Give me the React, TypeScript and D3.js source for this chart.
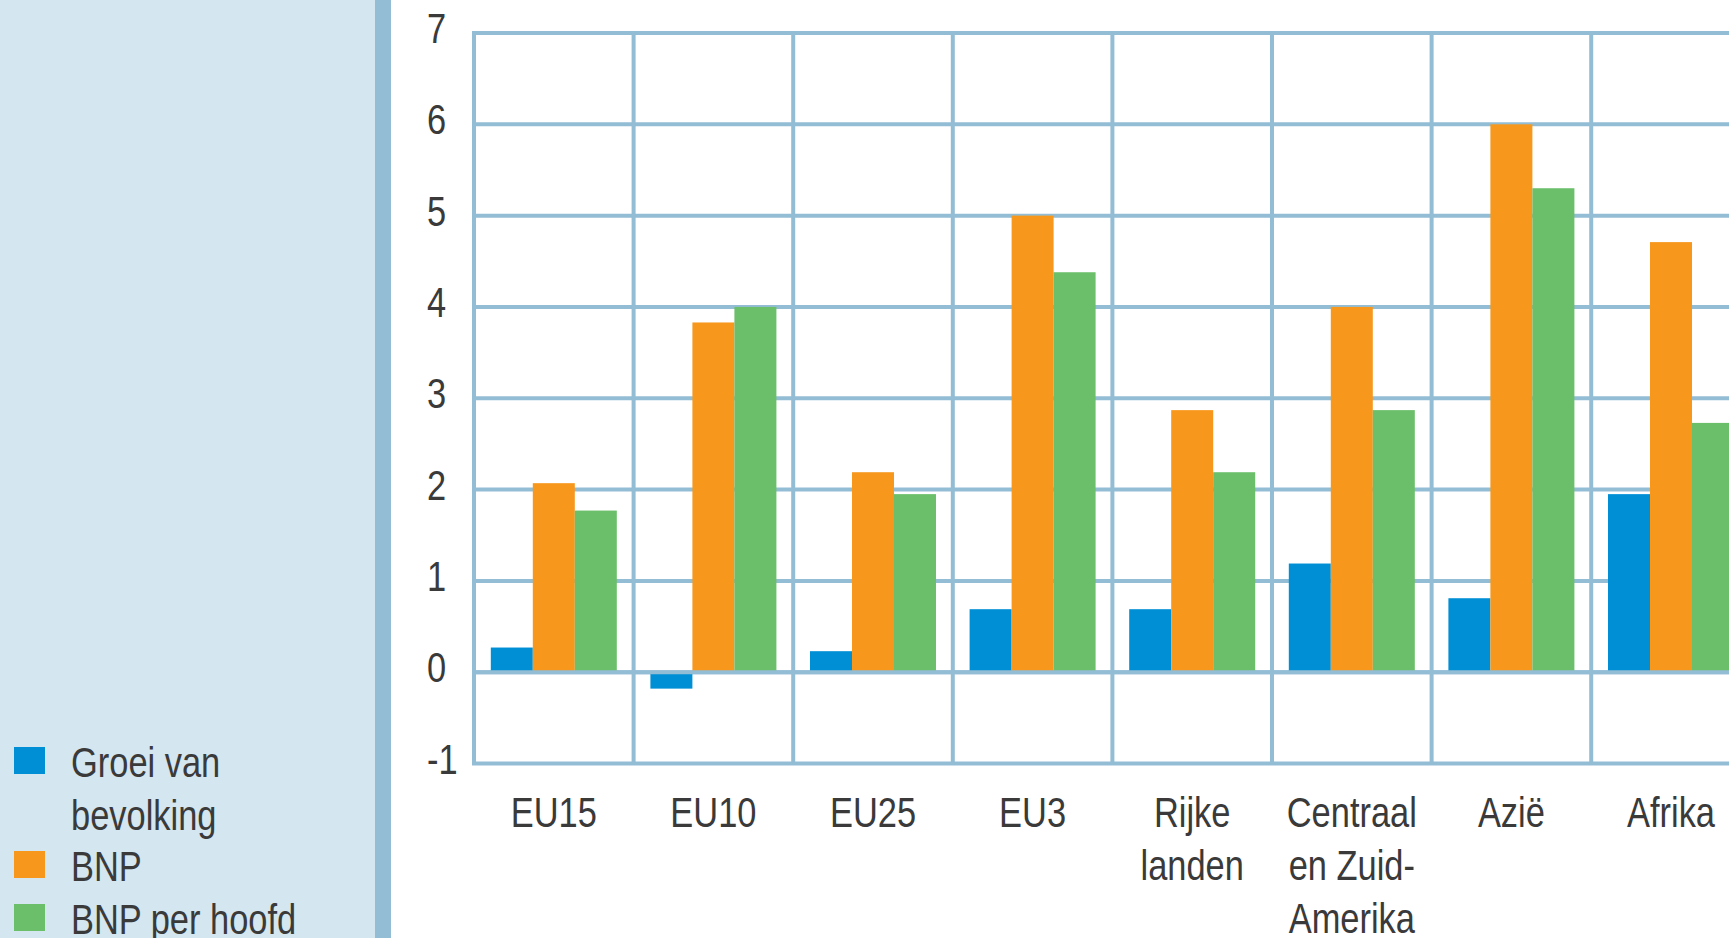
import React, { useEffect, useRef } from 'react'
import * as d3 from 'd3'

const categories = ['EU15', 'EU10', 'EU25', 'EU3', 'Rijke landen', 'Centraal en Zuid-Amerika', 'Azië', 'Afrika']
const categoryLines = [['EU15'], ['EU10'], ['EU25'], ['EU3'], ['Rijke', 'landen'], ['Centraal', 'en Zuid-', 'Amerika'], ['Azië'], ['Afrika']]
const seriesNames = ['Groei van bevolking', 'BNP', 'BNP per hoofd']
const legendLines = [['Groei van', 'bevolking'], ['BNP'], ['BNP per hoofd']]
const bevolking = [0.27, -0.18, 0.23, 0.69, 0.69, 1.19, 0.81, 1.95]
const bnp = [2.07, 3.83, 2.19, 5.0, 2.87, 4.0, 6.0, 4.71]
const bnpPerHoofd = [1.77, 4.0, 1.95, 4.38, 2.19, 2.87, 5.3, 2.73]
const yTicks = [-1, 0, 1, 2, 3, 4, 5, 6, 7]
const colors = ['#008fd5', '#f7981d', '#6bbf6a']

const W = 1729
const H = 938
const FONT = '"Liberation Sans", Arial, sans-serif'
const TEXT = '#3a3a3a'
const GRID = '#93bdd5'
const NARROW = 0.82 // the source uses a condensed face; squeeze a regular one

type Sel = d3.Selection<SVGGElement, unknown, null, undefined>

// condensed text block: lines stacked 53px apart, first baseline at y
function label(parent: Sel, x: number, y: number, lines: string[], anchor: string) {
    const t = parent
        .append('g')
        .attr('transform', `translate(${x},${y}) scale(${NARROW},1)`)
        .append('text')
        .attr('text-anchor', anchor)
        .attr('font-family', FONT)
        .attr('font-size', 42)
        .attr('fill', TEXT)
    lines.forEach((line, j) => {
        t.append('tspan').attr('x', 0).attr('y', j * 53).text(line)
    })
}

export default function App() {
    const svgRef = useRef<SVGSVGElement | null>(null)

    useEffect(() => {
        const svg = d3.select(svgRef.current)
        svg.selectAll('*').remove()
        const root = svg.append('g') as unknown as Sel

        // side panel
        root.append('rect').attr('x', 0).attr('y', 0).attr('width', 375).attr('height', H).attr('fill', '#d4e6f0')
        root.append('rect').attr('x', 375).attr('y', 0).attr('width', 16).attr('height', H).attr('fill', GRID)

        const left = 474
        const step = 159.6
        const right = left + step * categories.length // runs past the edge, as in the source

        const x0 = d3.scaleBand().domain(categories).range([left, right]).padding(0)
        const x1 = d3.scaleBand().domain(seriesNames).range([0, x0.bandwidth()]).paddingInner(0).paddingOuter(0.4)
        const y = d3.scaleLinear().domain([-1, 7]).range([763.5, 33])

        const grid = root.append('g').attr('stroke', GRID).attr('stroke-width', 4)
        grid.selectAll('line.h')
            .data(yTicks)
            .join('line')
            .attr('class', 'h')
            .attr('x1', left - 2)
            .attr('x2', right + 2)
            .attr('y1', (d) => y(d))
            .attr('y2', (d) => y(d))
        grid.selectAll('line.v')
            .data([...categories.map((c) => x0(c) as number), right])
            .join('line')
            .attr('class', 'v')
            .attr('x1', (d) => d)
            .attr('x2', (d) => d)
            .attr('y1', y(7))
            .attr('y2', y(-1))

        const values = [bevolking, bnp, bnpPerHoofd]
        const rows = categories.map((c, i) => ({ cat: c, vals: values.map((s) => s[i]) }))

        root.append('g')
            .selectAll('g')
            .data(rows)
            .join('g')
            .attr('transform', (d) => `translate(${x0(d.cat)},0)`)
            .selectAll('rect')
            .data((d) => d.vals.map((v, k) => ({ v, k })))
            .join('rect')
            .attr('x', (d) => x1(seriesNames[d.k]) as number)
            .attr('width', x1.bandwidth())
            .attr('y', (d) => y(Math.max(0, d.v)))
            .attr('height', (d) => Math.abs(y(d.v) - y(0)))
            .attr('fill', (d) => colors[d.k])

        // zero line sits over the bars
        root.append('line')
            .attr('x1', left - 2)
            .attr('x2', right + 2)
            .attr('y1', y(0))
            .attr('y2', y(0))
            .attr('stroke', GRID)
            .attr('stroke-width', 4)

        // y tick labels
        const yl = root.append('g') as unknown as Sel
        yTicks.forEach((t) => label(yl, 427, y(t) + 10, [String(t)], 'start'))

        // category labels
        const xl = root.append('g') as unknown as Sel
        categories.forEach((c, i) => {
            label(xl, (x0(c) as number) + x0.bandwidth() / 2, 827, categoryLines[i], 'middle')
        })

        // legend
        const legendBase = [777, 881, 934]
        const lg = root.append('g') as unknown as Sel
        seriesNames.forEach((s, k) => {
            lg.append('rect')
                .attr('x', 14)
                .attr('y', legendBase[k] - 30)
                .attr('width', 31)
                .attr('height', 27)
                .attr('fill', colors[k])
            label(lg, 71, legendBase[k], legendLines[k], 'start')
        })
    }, [])

    return (
        <svg
            ref={svgRef}
            width={W}
            height={H}
            style={{ position: 'absolute', left: 0, top: 0, display: 'block', background: '#fff' }}
        />
    )
}
